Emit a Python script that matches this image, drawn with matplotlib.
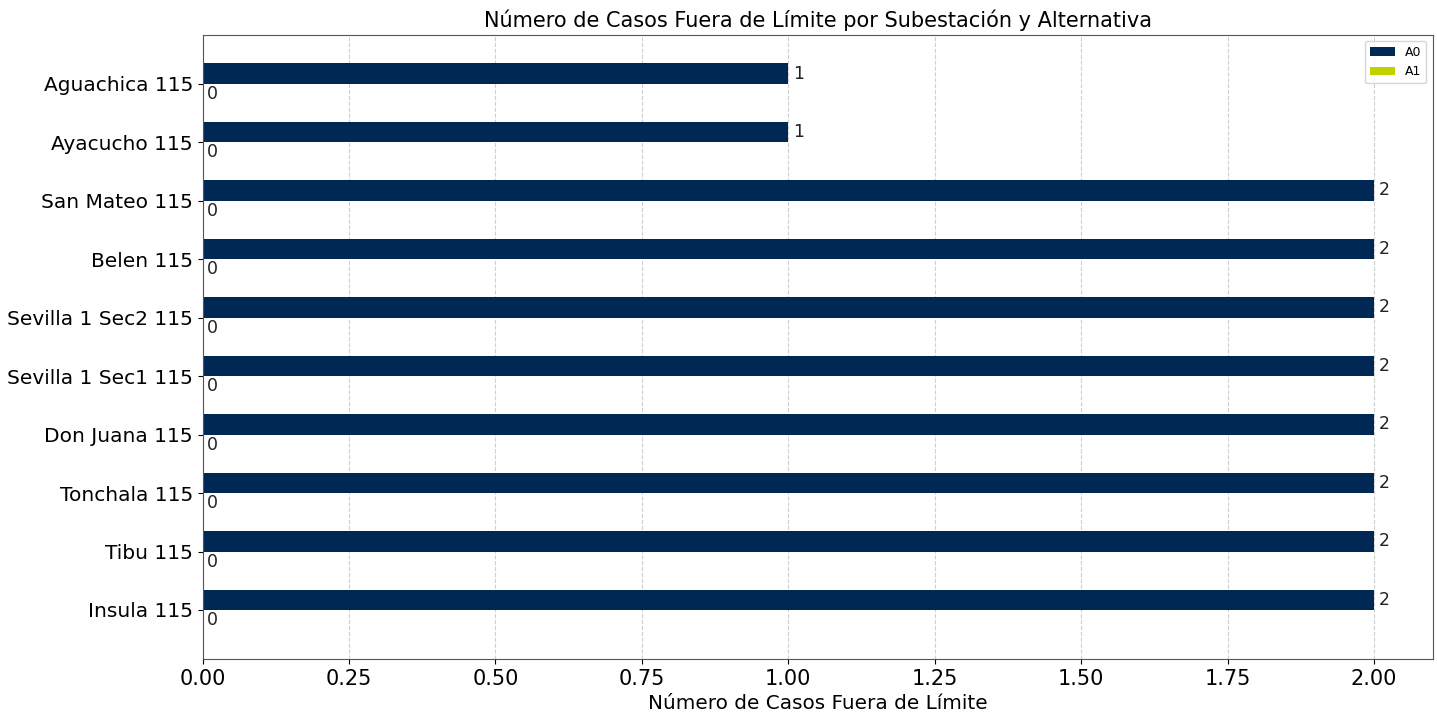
import numpy as np
import matplotlib.pyplot as plt

subestaciones = ["Insula 115", "Tibu 115", "Tonchala 115", "Don Juana 115",
                 "Sevilla 1 Sec1 115", "Sevilla 1 Sec2 115", "Belen 115",
                 "San Mateo 115", "Ayacucho 115", "Aguachica 115"]
a0 = [2, 2, 2, 2, 2, 2, 2, 2, 1, 1]
a1 = [0, 0, 0, 0, 0, 0, 0, 0, 0, 0]

y = np.arange(len(subestaciones))
h = 0.35

fig, ax = plt.subplots(figsize=(14.37, 7.13), dpi=100)
b0 = ax.barh(y + h/2, a0, h, label="A0", color="#002855")
b1 = ax.barh(y - h/2, a1, h, label="A1", color="#BFD200")

for bars in (b0, b1):
    for bar in bars:
        w = bar.get_width()
        ax.text(w + 0.008, bar.get_y() + bar.get_height()/2, f"{int(w)}",
                va="center", ha="left", fontsize=12.5, color="#222222")

ax.set_yticks(y)
ax.set_yticklabels(subestaciones, fontsize=14.5)
ax.tick_params(axis="x", labelsize=15)
ax.set_xlabel("Número de Casos Fuera de Límite", fontsize=14.4)
ax.set_title("Número de Casos Fuera de Límite por Subestación y Alternativa", fontsize=15)
ax.grid(axis="x", linestyle="--", alpha=0.6)
ax.set_axisbelow(True)
for s in ax.spines.values():
    s.set_color("#555555")
ax.legend(loc="upper right", fontsize=9)

plt.subplots_adjust(left=0.141, right=0.997, top=0.951, bottom=0.076)
plt.savefig("out.png")
